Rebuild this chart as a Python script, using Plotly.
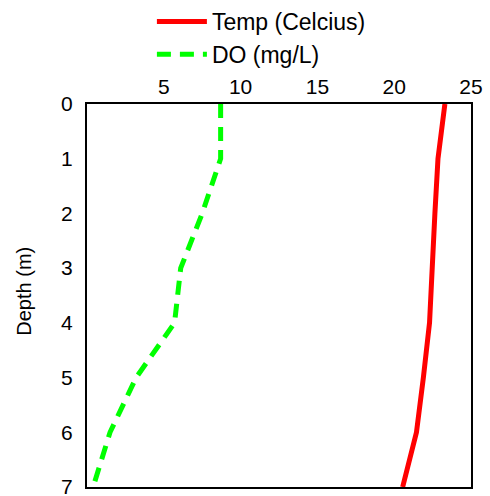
import plotly.graph_objects as go

# depth profile
depth = [0, 1, 2, 3, 4, 5, 6, 7]
temp_c = [23.3, 22.85, 22.65, 22.5, 22.3, 21.9, 21.45, 20.55]
do_mgl = [8.7, 8.7, 7.5, 6.1, 5.7, 3.2, 1.5, 0.4]

x_ticks = [5, 10, 15, 20, 25]
y_ticks = [0, 1, 2, 3, 4, 5, 6, 7]

FONT = "Liberation Sans, Arial, sans-serif"

fig = go.Figure()

fig.add_trace(go.Scatter(
    x=temp_c, y=depth,
    mode="lines",
    name="Temp (Celcius)",
    line={"color": "#FF0000", "width": 5},
))

fig.add_trace(go.Scatter(
    x=do_mgl, y=depth,
    mode="lines",
    name="DO (mg/L)",
    line={"color": "#00FF00", "width": 5, "dash": "14px,9px"},
))

fig.update_layout(
    width=490, height=496,
    margin={"l": 87, "r": 19, "t": 104, "b": 9, "autoexpand": False},
    paper_bgcolor="white",
    plot_bgcolor="white",
    font={"family": FONT, "size": 21, "color": "black"},
    legend={
        "xref": "container", "yref": "container",
        "x": 0.31, "y": 1.016,
        "xanchor": "left", "yanchor": "top",
        "font": {"size": 23},
        "itemwidth": 50,
        "tracegroupgap": 0,
        "bgcolor": "rgba(0,0,0,0)",
    },
    annotations=[{
        "text": "Depth (m)",
        "xref": "paper", "yref": "paper",
        "x": -0.164, "y": 0.51,
        "xanchor": "center", "yanchor": "middle",
        "textangle": -90,
        "showarrow": False,
        "font": {"size": 20},
    }],
)

fig.update_xaxes(
    side="top",
    range=[0, 25],
    tickvals=x_ticks,
    showgrid=False, zeroline=False,
    showline=True, mirror=True, linecolor="black", linewidth=2,
    ticks="",
    ticklabeloverflow="allow",
)

fig.update_yaxes(
    range=[7, 0],
    tickvals=y_ticks,
    showgrid=False, zeroline=False,
    showline=True, mirror=True, linecolor="black", linewidth=2,
    ticks="",
    ticklabelstandoff=8,
    ticklabeloverflow="allow",
)

# page body has a default 8px margin; drop it so the figure sits at 0,0
fig.write_html("out.html", config={"displayModeBar": False},
               post_script="document.body.style.margin='0';")
